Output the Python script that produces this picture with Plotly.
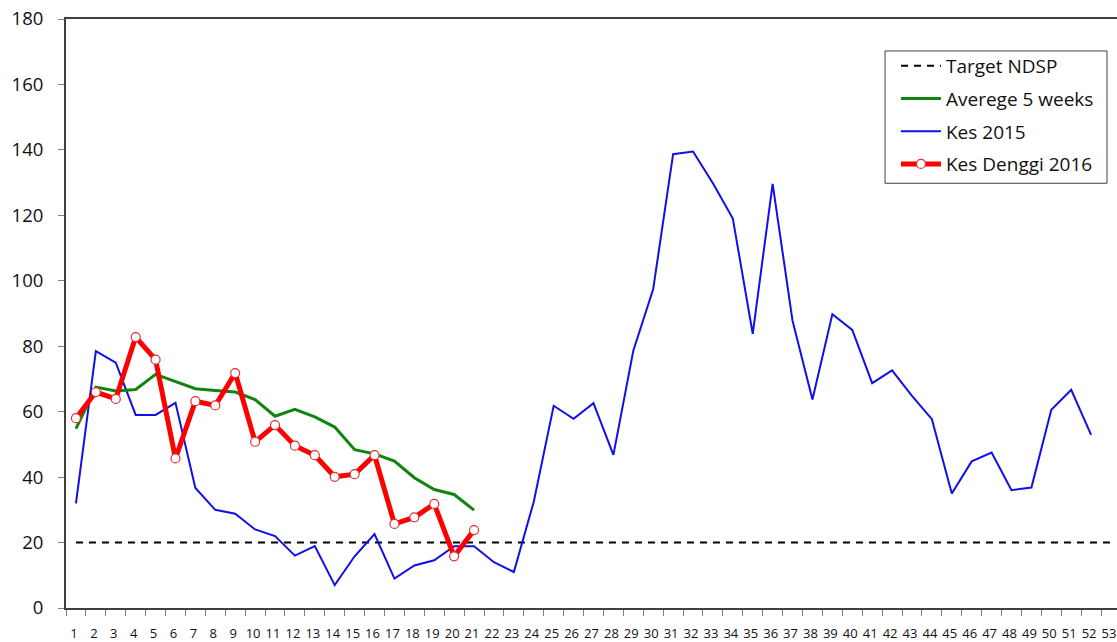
import plotly.graph_objects as go

weeks = [str(i) for i in range(1, 54)]

kes_2015 = [32, 78.5, 75, 59, 59, 62.7, 36.7, 30, 28.8, 24, 22, 16, 18.9, 7, 15.8, 22.6,
            9, 13, 14.6, 18.9, 18.9, 14, 11, 32.5, 61.8, 57.8, 62.6, 46.8, 78.6, 97.5,
            138.7, 139.5, 129.8, 119, 83.8, 129.6, 87.8, 63.7, 89.8, 85, 68.7, 72.6, 64.8,
            57.7, 35, 44.8, 47.5, 36, 36.8, 60.6, 66.7, 52.9]

avg_5_weeks = [54.8, 67.5, 66.3, 66.8, 71.4, 69.3, 67, 66.5, 66, 63.7, 58.6, 60.7, 58.4,
               55.3, 48.4, 47.1, 44.9, 39.8, 36.2, 34.7, 29.9]

kes_2016 = [58, 66, 63.9, 82.8, 75.9, 45.7, 63.2, 61.9, 71.8, 50.8, 55.9, 49.6, 46.7,
            40.1, 40.9, 46.7, 25.7, 27.7, 31.8, 15.8, 23.8]

target_ndsp = [20] * 53

fig = go.Figure()

fig.add_trace(go.Scatter(
    x=weeks, y=target_ndsp, mode="lines", name="Target NDSP",
    line=dict(color="#000000", width=2, dash="7px,6px"),
    legendrank=1, legendgroup="a"))

fig.add_trace(go.Scatter(
    x=weeks[:len(kes_2015)], y=kes_2015, mode="lines", name="Kes 2015",
    line=dict(color="#1010E8", width=2),
    legendrank=3, legendgroup="c"))

fig.add_trace(go.Scatter(
    x=weeks[:len(avg_5_weeks)], y=avg_5_weeks, mode="lines", name="Averege 5 weeks",
    line=dict(color="#0F850F", width=3),
    legendrank=2, legendgroup="b"))

fig.add_trace(go.Scatter(
    x=weeks[:len(kes_2016)], y=kes_2016, mode="lines+markers", name="Kes Denggi 2016",
    line=dict(color="#FF0000", width=5),
    marker=dict(symbol="circle", size=9, color="#FFFFFF",
                line=dict(color="#E03030", width=1.2)),
    legendrank=4, legendgroup="d"))

# legend frame
fig.add_shape(type="rect", xref="paper", yref="paper",
              x0=0.7793, x1=0.9905, y0=0.7211, y1=0.9457,
              line=dict(color="#404040", width=1), fillcolor="#FFFFFF", layer="below")

fig.update_layout(
    width=1117, height=642,
    margin=dict(l=66, r=0, t=19, b=34),
    paper_bgcolor="#FFFFFF", plot_bgcolor="#FFFFFF",
    showlegend=True,
    legend=dict(
        x=0.7897, xanchor="left", y=0.9525, yanchor="top",
        borderwidth=0, bgcolor="rgba(0,0,0,0)",
        font=dict(family="Open Sans, Liberation Sans, sans-serif", size=19, color="#111111"),
        itemwidth=40, tracegroupgap=5,
    ),
    xaxis=dict(
        type="category", range=[-0.5, 52.3], automargin=False,
        showgrid=False, zeroline=False,
        showline=True, linecolor="#404040", linewidth=2, mirror=True,
        ticks="outside", ticklen=6, tickcolor="#808080", tickwidth=1,
        tickson="boundaries", ticklabelstandoff=12, tickangle=0, ticklabelshift=-2,
        tickfont=dict(family="Open Sans, Liberation Sans, sans-serif",
                      size=13, color="#111111"),
    ),
    yaxis=dict(
        range=[0, 180], dtick=20, automargin=False,
        showgrid=False, zeroline=False,
        showline=True, linecolor="#404040", linewidth=2, mirror=False,
        ticks="outside", ticklen=6, tickcolor="#808080", tickwidth=1,
        ticklabelstandoff=11,
        tickfont=dict(family="Open Sans, Liberation Sans, sans-serif", size=18.5, color="#111111"),
    ),
)

fig.write_html("out.html", config={"displayModeBar": False},
               post_script="document.body.style.margin='0';document.body.style.overflow='hidden';")
